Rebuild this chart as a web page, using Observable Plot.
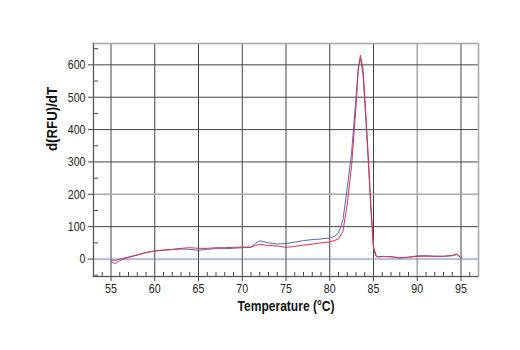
<!DOCTYPE html>
<html><head><meta charset="utf-8">
<script src="https://cdn.jsdelivr.net/npm/d3@7"></script>
<script src="https://cdn.jsdelivr.net/npm/@observablehq/plot@0.6"></script>
<style>
body{margin:0;background:#fff}
</style>
</head><body><div id="chart"></div>
<script>
const temps = [55, 55.5, 56, 57, 58, 59, 60, 61, 62, 63, 64, 65, 66, 67, 68, 69, 70, 71, 71.5, 72, 73, 74, 75, 76, 77, 78, 79, 80, 80.5, 81, 81.5, 82, 82.5, 83, 83.25, 83.5, 83.8, 84.1, 84.4, 84.7, 85, 85.3, 85.6, 86, 87, 88, 89, 90, 91, 92, 93, 94, 94.5, 95];
const blue = [-8, -14, -5, 5, 12, 20, 25, 27, 29, 31, 30, 27, 30, 32, 32, 33, 35, 36, 48, 56, 50, 46, 48, 52, 57, 60, 62, 65, 70, 80, 120, 220, 330, 500, 590, 620, 570, 440, 300, 150, 30, 8, 6, 8, 7, 3, 5, 10, 10, 9, 8, 10, 14, 5];
const red = [-3, -5, 0, 6, 13, 20, 25, 28, 30, 33, 35, 33, 33, 35, 35, 36, 37, 37, 42, 45, 42, 40, 36, 39, 43, 46, 50, 53, 57, 62, 85, 170, 290, 470, 580, 630, 590, 460, 320, 170, 40, 10, 7, 8, 7, 4, 6, 8, 9, 8, 9, 11, 16, 4];
const xTicks = [55, 60, 65, 70, 75, 80, 85, 90, 95];
const yTicks = [0, 100, 200, 300, 400, 500, 600];
const xMinor = d3.range(54, 97).filter(d => d % 5 !== 0);
const yMinor = [-50, 50, 150, 250, 350, 450, 550, 650];
const xLabel = "Temperature (°C)";
const yLabel = "d(RFU)/dT";

const FONT = "'Liberation Sans', Arial, sans-serif";
const W = 520, H = 350;
const mL = 93, mR = 42, mT = 43, mB = 74;
const innerW = W - mL - mR, innerH = H - mT - mB;

const rows = [
  ...temps.map((t, i) => ({t, v: blue[i], s: "blue"})),
  ...temps.map((t, i) => ({t, v: red[i], s: "red"}))
];

const chart = Plot.plot({
  width: W, height: H,
  marginLeft: mL, marginRight: mR, marginTop: mT, marginBottom: mB,
  x: {domain: [53, 97]},
  y: {domain: [-54, 666]},
  style: {fontFamily: FONT, fontSize: "12px", color: "#222", background: "#fff"},
  marks: [
    Plot.ruleX(xTicks, {stroke: d => d === 90 ? "#aaa" : "#444", strokeWidth: d => d === 90 ? 1.6 : 1}),
    Plot.ruleY(yTicks.filter(d => d !== 0), {stroke: d => d === 200 ? "#aaa" : "#444", strokeWidth: d => d === 200 ? 1.6 : 1}),
    Plot.ruleY([0], {stroke: "#6f80c4"}),
    Plot.ruleX(xMinor, {insetTop: innerH - 4, stroke: "#444"}),
    Plot.ruleY(yMinor, {insetRight: innerW - 5, stroke: "#444"}),
    Plot.frame({stroke: "#aaa", strokeWidth: 1.6}),
    Plot.ruleX([53], {stroke: "#555"}),
    Plot.ruleY([-54], {stroke: "#555"}),
    Plot.line(rows, {x: "t", y: "v", z: "s", stroke: d => d.s === "blue" ? "#5568b8" : "#d8324a", strokeWidth: 1}),
    Plot.axisX({ticks: xTicks, tickSize: 5, tickPadding: 2, fontSize: 13, fontFamily: FONT, label: null, stroke: "#444", fill: "#222"}),
    Plot.axisY({ticks: yTicks, tickSize: 5, tickPadding: 3, fontSize: 13.5, fontFamily: FONT, label: null, stroke: "#444", fill: "#222"}),
    Plot.text([xLabel], {frameAnchor: "bottom", dy: 34, fontWeight: "bold", fontSize: 15, fontFamily: FONT, fill: "#111"}),
    Plot.text([yLabel], {frameAnchor: "left", rotate: -90, dx: -41, dy: -9, fontWeight: "bold", fontSize: 15, fontFamily: FONT, fill: "#111"})
  ]
});
// condense text horizontally to mimic the narrow typeface of the original
const svg = d3.select(chart);
svg.selectAll('[aria-label="x-axis tick label"] text, [aria-label="y-axis tick label"] text').each(function () {
  const n = this.textContent.length;
  this.setAttribute("textLength", n * 5.9);
  this.setAttribute("lengthAdjust", "spacingAndGlyphs");
});
svg.selectAll('[aria-label="text"] text').each(function () {
  const s = this.textContent;
  this.setAttribute("textLength", s === xLabel ? 97 : 64);
  this.setAttribute("lengthAdjust", "spacingAndGlyphs");
});
document.getElementById("chart").append(chart);
</script>
</body></html>
